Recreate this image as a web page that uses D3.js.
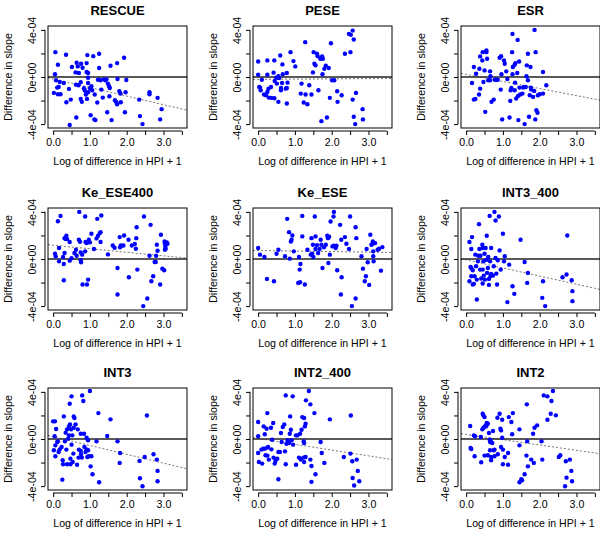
<!DOCTYPE html>
<html>
<head>
<meta charset="utf-8">
<script src="https://cdn.jsdelivr.net/npm/d3@7"></script>
<style>
body { margin: 0; background: #fff; }
svg text { font-family: "Liberation Sans", Arial, Helvetica, sans-serif; }
</style>
</head>
<body>
<script>
// slopes are kept in units of 1e-04
var titles = ["RESCUE", "PESE", "ESR", "Ke_ESE400", "Ke_ESE", "INT3_400", "INT3", "INT2_400", "INT2"];

var rescueX = [0.06,0.35,0.13,0.05,0.08,0.02,0.13,0.11,0.15,0.2,0.18,0.29,0.36,0.43,0.45,0.48,0.51,0.61,0.64,0.67,0.7,0.63,0.62,0.69,0.75,0.78,0.75,0.8,0.76,0.84,0.86,0.91,0.93,0.91,0.95,0.95,0.95,0.89,0.95,0.92,1.0,1.04,1.06,1.02,1.09,1.12,1.15,1.13,1.2,1.22,1.25,1.25,1.29,1.31,1.35,1.38,1.42,1.45,1.47,1.49,1.52,1.54,1.53,1.56,1.59,1.68,1.72,1.74,1.75,1.74,1.8,1.83,1.84,1.93,1.95,1.97,1.99,2.34,2.36,2.43,2.62,2.62,2.84,2.91,2.95];
var rescueY = [2.11,1.89,1.04,0.23,-0.28,-1.35,-1.46,-0.9,-0.85,-1.46,-0.42,-0.51,-2.14,-1.01,-4.08,-1.92,0.85,0.39,1.21,0.9,0.34,-3.44,-0.65,-0.7,-0.45,-2.11,-1.86,0.79,1.13,-0.96,-1.15,1.18,1.86,0.42,0.34,-0.06,-0.51,-1.49,-1.3,-1.86,-0.96,-0.79,-1.13,-3.24,1.77,-3.6,-3.66,-1.49,-2.17,-0.23,1.97,0.76,-0.28,-1.07,-1.75,-0.2,-0.28,-0.2,-2.99,-0.56,-0.79,-0.93,-1.63,0.96,-3.66,-1.97,-2.14,1.18,-0.17,-2.31,-1.21,-1.41,-2.14,1.63,-2.99,-1.3,-0.25,-1.92,-3.32,-4.0,-1.3,-1.46,-1.77,-3.6,-2.73];

var peseX = [0.0,0.0,0.03,0.05,0.07,0.1,0.16,0.21,0.25,0.25,0.25,0.28,0.29,0.35,0.36,0.42,0.44,0.44,0.45,0.49,0.51,0.55,0.57,0.55,0.6,0.62,0.62,0.65,0.66,0.67,0.75,0.78,0.78,0.78,0.8,0.88,0.96,1.01,1.18,1.16,1.24,1.28,1.29,1.34,1.39,1.45,1.51,1.49,1.53,1.56,1.6,1.62,1.64,1.69,1.74,1.72,1.75,1.76,1.8,1.84,1.87,1.92,1.95,1.98,2.01,2.07,2.15,2.16,2.27,2.36,2.47,2.52,2.51,2.57,2.6,2.57,2.6,2.66,2.64,2.84,2.85];
var peseY = [1.32,0.2,-0.85,-0.9,-1.13,-0.23,-1.49,-1.55,1.41,0.2,-1.27,-0.99,-1.75,-0.85,-1.77,0.37,1.41,-1.8,-0.34,-0.06,-0.56,0.06,-0.08,-2.11,1.83,-0.93,-1.13,-0.51,1.07,0.23,-0.99,-0.93,0.34,-2.25,-0.48,2.11,1.35,0.9,-0.56,-1.41,-2.17,2.96,-1.49,-2.31,-0.7,-1.49,2.11,0.39,1.13,0.99,1.97,1.77,-1.13,1.55,1.75,-3.75,0.23,1.55,0.7,0.96,-3.44,0.76,-1.77,2.87,-0.28,-0.28,-1.21,-2.11,-1.55,1.97,3.66,3.58,2.11,3.94,3.18,-1.92,-3.38,-1.35,-4.0,-2.73,-3.6];

var esrX = [0.16,0.21,0.21,0.25,0.27,0.35,0.36,0.38,0.38,0.44,0.45,0.47,0.5,0.52,0.55,0.55,0.57,0.6,0.65,0.65,0.66,0.69,0.75,0.78,0.83,0.86,0.91,0.95,0.94,0.96,0.98,1.03,1.05,1.09,1.12,1.18,1.2,1.21,1.23,1.25,1.26,1.26,1.27,1.32,1.34,1.32,1.33,1.36,1.4,1.39,1.42,1.41,1.44,1.45,1.47,1.53,1.55,1.57,1.59,1.62,1.64,1.65,1.68,1.68,1.71,1.73,1.75,1.76,1.77,1.82,1.85,1.86,1.89,1.88,1.91,1.94,1.95,2.0,2.09,2.09,2.18];
var esrY = [-0.51,0.85,-1.92,-1.86,0.28,-1.49,0.7,1.75,-0.99,1.41,2.11,-0.42,0.56,-2.96,2.25,2.11,1.55,-0.28,0.48,-0.28,0.06,-2.11,-1.92,-0.23,-0.23,-0.23,1.63,1.77,-1.07,0.23,-3.6,1.41,1.13,0.48,-0.17,-3.44,-2.03,-1.13,-0.93,2.11,3.66,0.23,0.85,1.04,1.18,-1.13,-0.48,-1.83,3.15,0.34,-3.66,-1.61,1.32,-0.9,-1.49,-1.41,-0.9,-0.85,-4.0,-0.85,0.06,0.99,1.97,-0.28,-3.38,-1.55,0.85,-0.9,-1.07,-1.69,-1.18,4.0,2.11,-3.6,-2.82,-3.04,-1.55,-1.46,0.42,-1.41,-0.7];

var keEse400X = [0.05,0.07,0.13,0.16,0.16,0.2,0.27,0.29,0.29,0.31,0.31,0.34,0.36,0.38,0.45,0.45,0.5,0.58,0.62,0.64,0.7,0.71,0.73,0.75,0.75,0.76,0.79,0.8,0.87,0.87,0.88,0.91,0.92,0.95,0.97,1.0,1.04,1.11,1.18,1.2,1.22,1.27,1.29,1.29,1.31,1.49,1.62,1.67,1.75,1.75,1.81,1.82,1.84,1.91,1.93,2.05,2.06,2.14,2.22,2.25,2.26,2.27,2.29,2.45,2.47,2.56,2.62,2.65,2.67,2.72,2.76,2.79,2.8,2.82,2.84,2.91,2.93,2.97,3.02,3.03,3.04,3.05,3.04,3.06,3.09,3.11];
var keEse400Y = [0.45,0.23,3.21,0.93,-0.2,3.66,0.17,-0.42,-1.8,0.51,1.77,1.69,1.97,1.69,1.44,-0.14,0.06,0.51,0.79,0.28,1.63,4.0,1.46,0.56,-0.11,-0.28,0.37,-2.17,3.61,0.65,1.44,1.35,-2.17,-1.75,1.63,1.41,2.14,0.85,1.75,3.41,1.97,2.2,2.28,1.44,3.69,0.39,1.15,0.96,-0.76,-3.01,1.86,0.99,1.15,1.15,2.0,1.63,-1.55,1.15,1.27,0.87,1.77,2.7,-0.9,-4.0,3.61,-3.35,0.28,2.9,-1.89,-1.46,-0.25,-0.25,0.28,1.21,0.7,-2.17,2.06,-0.82,-0.96,1.49,1.3,1.07,0.79,0.87,1.41,1.3];

var keEseX = [0.0,0.05,0.17,0.24,0.43,0.5,0.55,0.73,0.79,0.84,0.86,0.89,0.91,0.93,0.97,1.11,1.13,1.09,1.14,1.15,1.2,1.2,1.27,1.34,1.43,1.45,1.47,1.49,1.5,1.54,1.56,1.56,1.6,1.63,1.67,1.7,1.72,1.75,1.79,1.84,1.88,1.9,1.93,1.91,1.95,1.97,2.02,2.05,2.06,2.06,2.11,2.13,2.15,2.23,2.26,2.25,2.27,2.36,2.4,2.47,2.5,2.55,2.65,2.65,2.67,2.81,2.85,2.9,2.93,2.95,2.98,3.02,3.05,3.08,3.11,3.12,3.13,3.13,3.14,3.18,3.25,3.29,3.34,3.38];
var keEseY = [0.93,0.37,0.17,-1.69,-1.89,0.45,0.79,0.23,3.41,2.28,0.03,1.49,1.63,2.0,0.65,0.17,-0.9,-2.03,-1.97,-0.42,3.66,1.92,-2.17,0.79,0.37,1.77,0.45,1.21,0.17,3.61,1.92,0.85,1.18,0.51,0.85,1.63,1.21,-0.76,0.99,1.21,1.97,1.77,1.89,-0.34,0.37,3.18,1.07,3.61,4.0,1.13,0.93,1.13,-0.96,2.9,1.63,-3.01,-1.55,1.86,1.3,0.85,3.61,-4.0,2.7,-3.35,1.77,0.23,-0.82,-1.89,-1.46,0.85,-0.28,-2.2,2.06,1.21,1.3,1.49,0.65,0.23,-0.2,1.35,0.79,0.87,-0.99,1.01];

var int3400X = [0.09,0.14,0.16,0.12,0.14,0.18,0.09,0.14,0.18,0.21,0.23,0.25,0.27,0.29,0.29,0.32,0.33,0.35,0.36,0.38,0.39,0.41,0.44,0.45,0.45,0.45,0.47,0.48,0.5,0.51,0.53,0.55,0.56,0.57,0.59,0.6,0.62,0.62,0.64,0.65,0.66,0.68,0.68,0.73,0.75,0.77,0.8,0.8,0.82,0.84,0.86,0.89,0.91,0.94,1.0,1.03,1.05,1.12,1.17,1.26,1.31,1.48,1.59,1.66,1.68,2.07,2.09,2.15,2.62,2.73,2.75,2.87,2.89,2.89];
var int3400Y = [1.44,0.85,1.86,-0.68,-0.76,-0.96,-1.89,-1.46,-2.17,-2.11,-1.46,0.37,-0.62,-3.44,-1.75,-0.2,0.28,2.96,0.85,-0.9,0.28,-1.66,1.21,0.93,-0.9,-2.08,-0.2,-1.41,0.45,-1.75,0.93,-0.06,1.97,-1.18,-0.76,0.17,-2.2,-1.69,3.66,-0.2,-1.46,0.93,-1.27,-1.41,-0.62,4.0,3.27,0.08,-1.24,-2.17,-0.11,3.61,0.73,-0.9,2.14,-0.2,0.23,-3.66,-0.48,-2.31,-2.96,1.63,-0.25,-2.03,-1.18,-3.3,-1.89,-4.0,-1.55,-1.32,2.0,-1.8,-2.73,-3.58];

var int3X = [0.0,0.02,0.04,0.05,0.06,0.06,0.08,0.11,0.13,0.15,0.18,0.23,0.26,0.27,0.25,0.29,0.32,0.34,0.36,0.38,0.38,0.41,0.43,0.43,0.45,0.46,0.47,0.47,0.49,0.5,0.5,0.52,0.53,0.55,0.56,0.56,0.58,0.61,0.65,0.67,0.69,0.7,0.75,0.75,0.76,0.78,0.79,0.82,0.84,0.85,0.88,0.91,0.91,0.93,0.95,0.95,0.97,1.0,1.02,1.04,1.07,1.18,1.23,1.25,1.47,1.56,1.75,1.82,1.81,2.35,2.36,2.43,2.49,2.55,2.73,2.82,2.84,2.84];
var int3Y = [1.5,-0.96,0.23,1.5,-0.54,-1.47,0.85,-0.25,-0.2,-1.1,-0.88,-0.68,-1.81,-2.15,-3.45,1.92,-0.2,0.54,-0.9,-2.15,0.82,0.03,0.31,1.07,2.99,1.24,-1.67,-2.15,0.82,3.62,-0.48,0.31,-1.95,-1.24,1.92,0.96,1.78,1.24,-2.18,0.82,-1.58,-0.9,-1.02,0.45,-1.3,-1.58,3.7,3.22,0.45,-0.68,-1.1,0.11,-0.88,-1.53,-0.11,-0.96,-1.47,4.07,-2.32,-1.47,-2.99,-0.2,2.2,-3.67,0.25,1.67,-0.2,-1.19,-2.03,-1.86,-3.33,-4.01,-1.53,2.0,-1.3,-1.75,-2.71,-3.59];

var int2400X = [0.0,0.0,0.0,0.02,0.09,0.11,0.14,0.15,0.18,0.18,0.2,0.23,0.25,0.25,0.25,0.27,0.29,0.35,0.36,0.38,0.41,0.42,0.45,0.47,0.52,0.55,0.55,0.59,0.62,0.64,0.67,0.71,0.73,0.75,0.75,0.77,0.8,0.84,0.86,0.87,0.89,0.91,0.94,0.95,1.03,1.03,1.07,1.11,1.14,1.16,1.18,1.2,1.23,1.24,1.25,1.25,1.25,1.27,1.29,1.3,1.29,1.38,1.42,1.42,1.45,1.45,1.53,1.56,1.7,1.73,1.8,1.95,2.33,2.51,2.52,2.56,2.57,2.61,2.68,2.71,2.75];
var int2400Y = [0.23,1.44,-1.19,-1.95,-0.9,-2.09,-0.82,1.07,0.4,-0.82,-1.38,0.88,-0.73,2.2,-1.41,-0.68,-1.75,0.96,-0.88,-0.06,1.36,-1.58,-2.09,-1.86,-1.67,-3.42,-1.1,-1.1,0.51,-0.25,1.02,1.24,-1.05,-2.15,3.7,-0.4,-0.11,-0.34,0.45,1.92,0.79,-0.11,3.62,-0.48,0.31,-2.18,0.31,-1.58,0.45,-1.75,0.79,1.86,-1.58,-0.2,1.78,-1.95,-0.34,1.07,1.3,3.28,-1.53,4.07,2.94,-1.75,-2.29,-3.64,2.2,-2.99,-0.25,-1.19,-2.03,1.67,-1.53,-1.24,2.0,-1.89,-3.31,-3.95,-1.75,-2.71,-3.59];

var int2X = [0.11,0.12,0.14,0.21,0.24,0.23,0.4,0.41,0.44,0.45,0.47,0.47,0.5,0.5,0.5,0.53,0.55,0.56,0.59,0.59,0.62,0.64,0.65,0.65,0.66,0.68,0.68,0.71,0.73,0.75,0.77,0.77,0.85,0.86,0.91,0.93,0.95,0.95,0.98,0.98,1.0,1.0,1.05,1.14,1.14,1.16,1.23,1.25,1.27,1.45,1.45,1.45,1.5,1.52,1.59,1.64,1.65,1.66,1.68,1.77,1.82,1.84,1.86,1.93,2.05,2.07,2.11,2.21,2.21,2.3,2.32,2.36,2.44,2.52,2.56,2.71,2.73,2.82,2.86,2.69,2.88];
var int2Y = [1.1,-0.76,-0.85,0.31,0.23,-1.47,0.17,-1.98,0.82,2.15,2.01,0.96,1.86,1.02,-1.41,1.16,1.1,1.36,1.3,-1.38,0.51,-0.06,-0.25,-0.96,-0.11,-1.81,-1.53,-0.34,0.68,-0.96,-1.47,-0.9,1.81,-1.3,2.15,0.88,0.73,-0.68,1.64,0.11,-2.15,-0.9,-1.53,-1.19,-2.18,1.86,1.44,0.4,2.2,0.82,-0.54,-3.67,-3.42,-3.5,-2.99,-1.41,2.94,-0.2,-2.32,-1.75,0.45,-2.03,0.96,1.16,-0.2,-1.75,3.7,1.64,3.62,2.15,3.22,4.07,2.01,-1.53,-1.38,-1.89,-3.28,-1.75,-2.71,-4.01,-3.59];

// fitted regression line (intercept, slope), drawn dotted
var fitIntercept = [-0.16, -0.2, 0.22, 1.17, 0.72, -0.07, 0.2, 0.04, 0.39];
var fitSlope = [-0.73, 0.02, -0.6, -0.3, -0.045, -0.69, -0.75, -0.49, -0.45];

var xTicks = [0, 0.5, 1, 1.5, 2, 2.5, 3, 3.5];
var yTicks = [-4, -2, 0, 2, 4];
var yTickLabels = {"-4": "-4e-04", "0": "0e+00", "4": "4e-04"};

var xs = [rescueX, peseX, esrX, keEse400X, keEseX, int3400X, int3X, int2400X, int2X];
var ys = [rescueY, peseY, esrY, keEse400Y, keEseY, int3400Y, int3Y, int2400Y, int2Y];

var W = 600, H = 543;
var colLeft = [48, 253, 461];
var rowTop = [26, 208, 388];
var pw = 139, ph = 102;

var svg = d3.select("body").append("svg")
    .attr("width", W)
    .attr("height", H);

var x = d3.scaleLinear().domain([-0.14, 3.64]).range([0, pw]);
var y = d3.scaleLinear().domain([-4.33, 4.33]).range([ph, 0]);

titles.forEach(function(t, i) {
    var px = colLeft[i % 3], py = rowTop[Math.floor(i / 3)];
    var g = svg.append("g").attr("transform", "translate(" + px + "," + py + ")");

    // dotted regression line
    var dom = x.domain();
    g.append("line")
        .attr("x1", x(dom[0])).attr("y1", y(fitIntercept[i] + fitSlope[i] * dom[0]))
        .attr("x2", x(dom[1])).attr("y2", y(fitIntercept[i] + fitSlope[i] * dom[1]))
        .attr("stroke", "#777").attr("stroke-width", 1)
        .attr("stroke-dasharray", "2,2");

    // zero line
    g.append("line")
        .attr("x1", 0).attr("x2", pw)
        .attr("y1", y(0)).attr("y2", y(0))
        .attr("stroke", "#222").attr("stroke-width", 1.3);

    g.selectAll("circle")
        .data(xs[i].map(function(v, k) { return [v, ys[i][k]]; }))
        .enter()
        .append("circle")
        .attr("cx", function(d) { return x(d[0]); })
        .attr("cy", function(d) { return y(d[1]); })
        .attr("r", 2.2)
        .attr("fill", "#0000ff");

    g.append("rect")
        .attr("width", pw).attr("height", ph)
        .attr("fill", "none").attr("stroke", "#000").attr("stroke-width", 1);

    var xAxis = d3.axisBottom(x)
        .tickValues(xTicks)
        .tickSize(4)
        .tickPadding(3)
        .tickFormat(function(d) { return d % 1 === 0 ? d.toFixed(1) : ""; });
    var xa = g.append("g")
        .attr("transform", "translate(0," + (ph + 3) + ")")
        .call(xAxis);
    xa.select(".domain").remove();
    xa.append("line").attr("x1", x(0)).attr("x2", x(3.5)).attr("stroke", "#000");

    var yAxis = d3.axisLeft(y)
        .tickValues(yTicks)
        .tickSize(4)
        .tickFormat(function(d) { return yTickLabels[d] || ""; });
    var ya = g.append("g")
        .attr("transform", "translate(-3,0)")
        .call(yAxis);
    ya.select(".domain").remove();
    ya.append("line").attr("y1", y(-4)).attr("y2", y(4)).attr("stroke", "#000");
    ya.selectAll(".tick text")
        .attr("transform", "rotate(-90)")
        .attr("x", 0).attr("y", -9)
        .attr("dy", 0)
        .attr("text-anchor", "middle");

    svg.selectAll(".tick text").attr("font-size", 10.6).attr("fill", "#000")
        .attr("font-family", "Liberation Sans, Arial, sans-serif");
    g.selectAll(".tick line").attr("stroke", "#000");

    g.append("text")
        .attr("x", pw / 2).attr("y", -11)
        .attr("text-anchor", "middle")
        .attr("font-size", 13).attr("font-weight", "bold")
        .text(t);

    g.append("text")
        .attr("x", pw / 2).attr("y", ph + 37)
        .attr("text-anchor", "middle")
        .attr("font-size", 10.6)
        .text("Log of difference in HPI + 1");

    g.append("text")
        .attr("transform", "translate(-36," + (ph / 2) + ") rotate(-90)")
        .attr("text-anchor", "middle")
        .attr("font-size", 10.6)
        .text("Difference in slope");
});
</script>
</body>
</html>
